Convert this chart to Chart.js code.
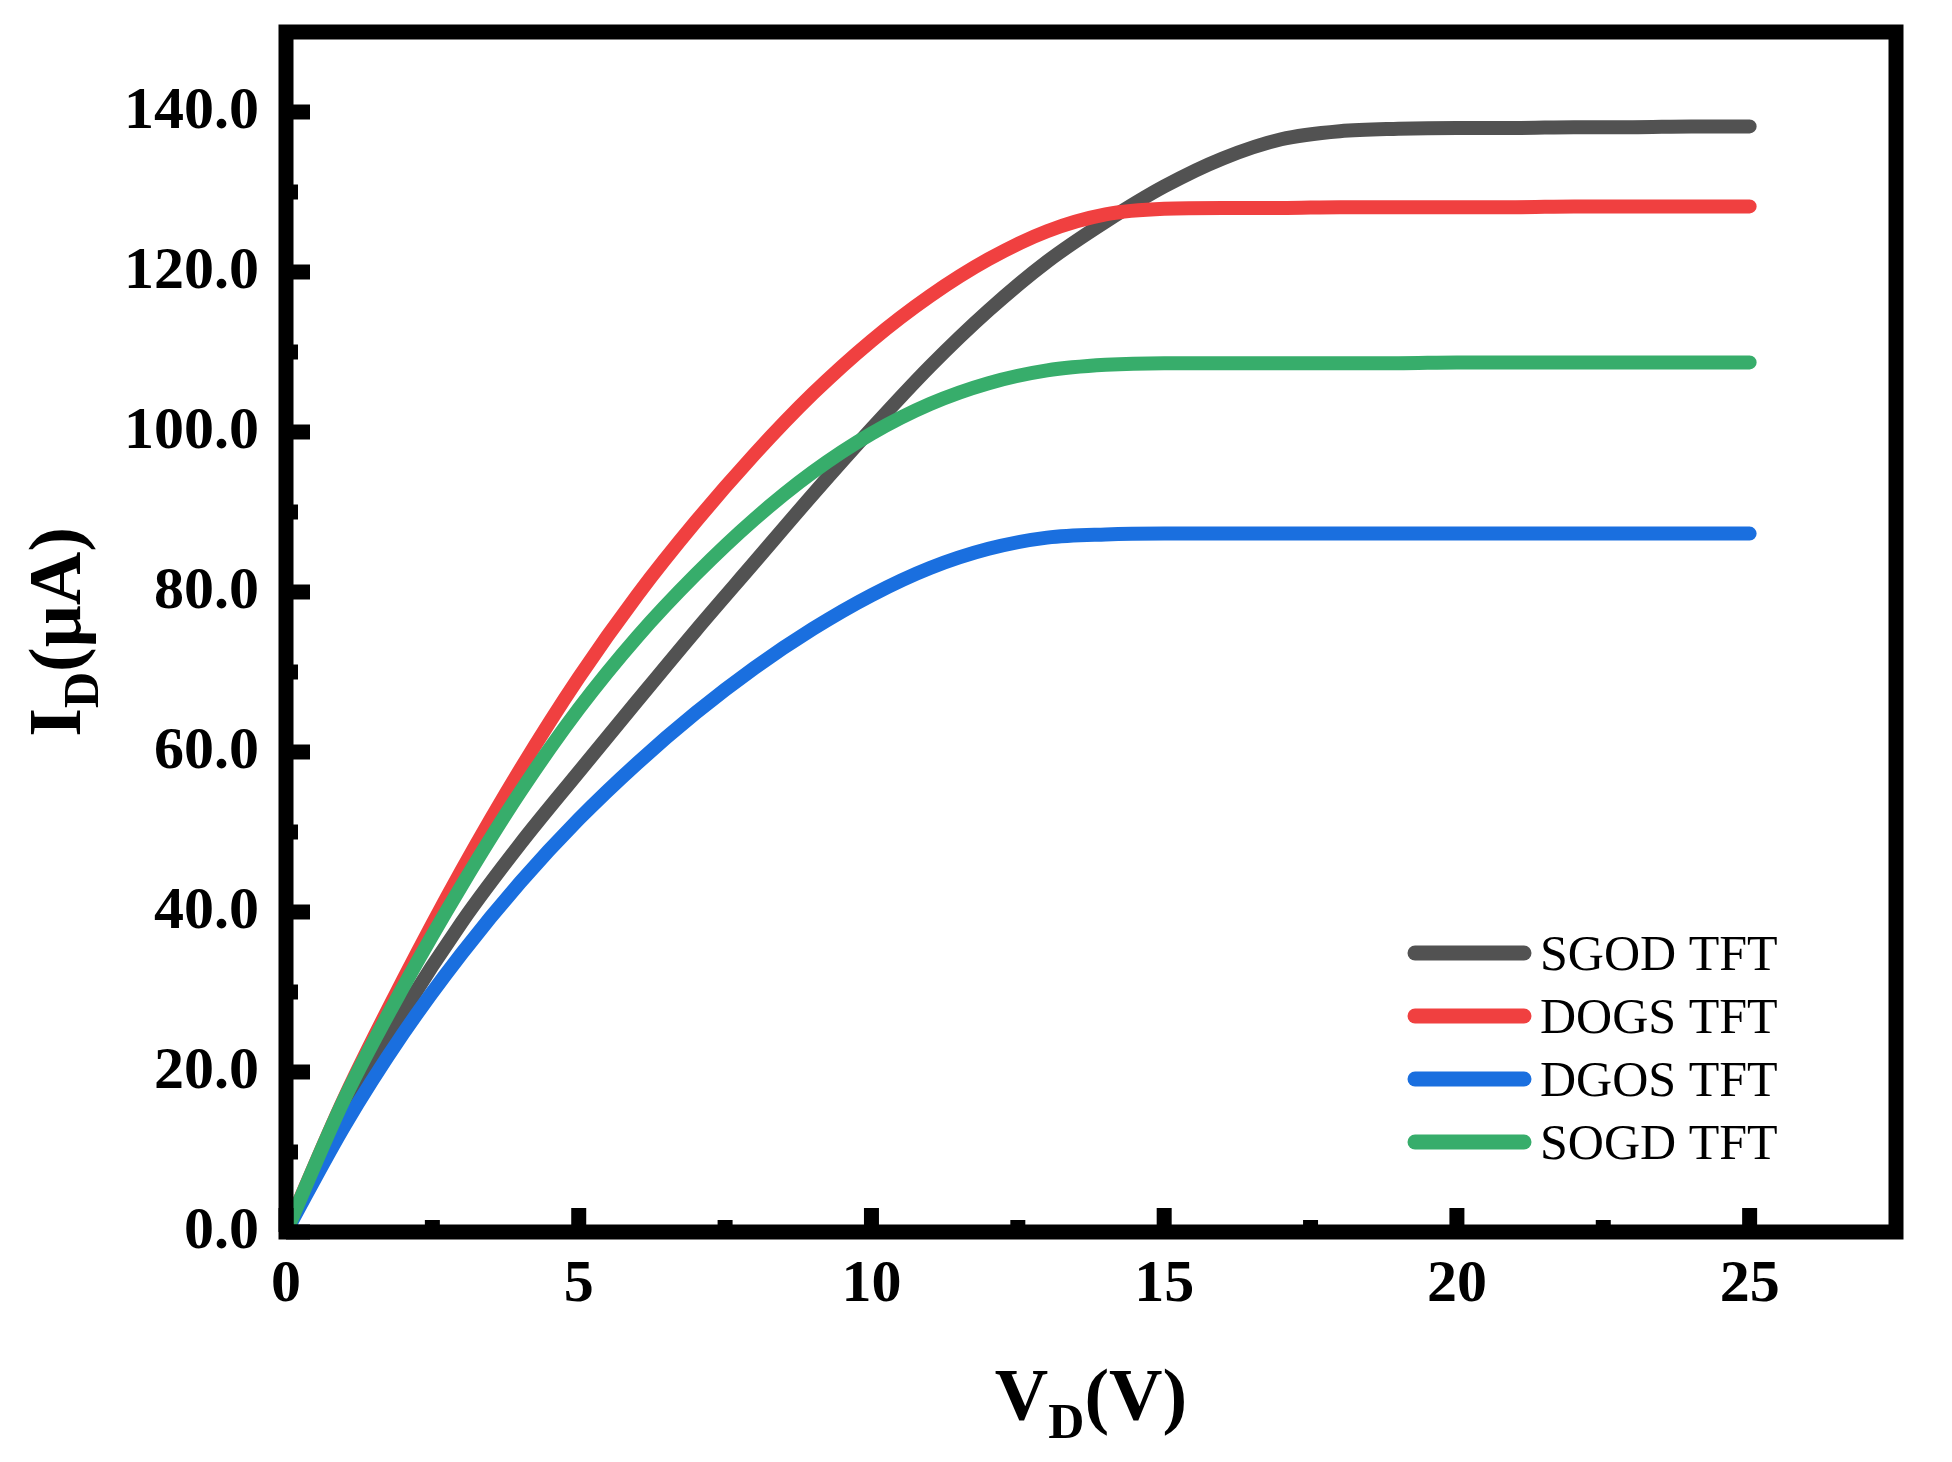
<!DOCTYPE html>
<html>
<head>
<meta charset="utf-8">
<title>ID-VD output curves</title>
<script src="https://cdn.jsdelivr.net/npm/chart.js@4.4.1/dist/chart.umd.min.js"></script>
<style>
  html, body { margin: 0; padding: 0; background: #ffffff; }
  #wrap { width: 1952px; height: 1462px; }
</style>
</head>
<body>
<div id="wrap"><canvas id="ivChart" width="1952" height="1462"></canvas></div>
<script>
// drain voltage (V)
var vd = [0, 1, 2, 3, 4, 5, 6, 7, 8, 9, 10, 11, 12, 13, 14, 15, 16, 17, 18, 19, 20, 21, 22, 23, 24, 25];

// drain current (uA)
var sgod = [0, 14.8, 27.5, 38.7, 48.5, 57.5, 66.4, 75.2, 83.7, 92.2, 100.4, 108.2, 115.2, 121.3, 126.3, 130.7, 134.2, 136.6, 137.6, 137.9, 138, 138, 138.1, 138.1, 138.2, 138.2];
var dogs = [0, 16.8, 31.5, 45.2, 57.8, 69.3, 79.6, 88.8, 97.2, 104.8, 111.4, 117, 121.6, 125.1, 127.2, 127.9, 128, 128, 128.1, 128.1, 128.1, 128.1, 128.2, 128.2, 128.2, 128.2];
var dgos = [0, 13.3, 24.8, 34.8, 43.7, 51.6, 58.6, 64.9, 70.5, 75.4, 79.6, 83, 85.4, 86.8, 87.2, 87.3, 87.3, 87.3, 87.3, 87.3, 87.3, 87.3, 87.3, 87.3, 87.3, 87.3];
var sogd = [0, 16.7, 30.6, 43.3, 55, 65.4, 74.4, 82.2, 89.1, 95, 99.8, 103.5, 106.1, 107.7, 108.4, 108.6, 108.6, 108.6, 108.6, 108.6, 108.7, 108.7, 108.7, 108.7, 108.7, 108.7];

var seriesNames = ['SGOD TFT', 'DOGS TFT', 'DGOS TFT', 'SOGD TFT'];
var seriesColors = ['#525252', '#f04040', '#1a6fdf', '#37ad6b'];

var xTicks = [0, 5, 10, 15, 20, 25];
var xMinor = [2.5, 7.5, 12.5, 17.5, 22.5];
var yTicks = [0, 20, 40, 60, 80, 100, 120, 140];
var yMinor = [10, 30, 50, 70, 90, 110, 130];

var serif = '"Liberation Serif", "Times New Roman", serif';

var toPoints = function(ys) {
	return vd.map(function(v, i) { return { x: v, y: ys[i] }; });
};

// black box + inward ticks, drawn over the curves like in Origin
var framePlugin = {
	id: 'frame',
	afterDatasetsDraw: function(chart) {
		var ctx = chart.ctx, a = chart.chartArea;
		var xs = chart.scales.x, ys = chart.scales.y;
		ctx.save();
		ctx.strokeStyle = '#000';
		ctx.lineWidth = 15;
		ctx.lineCap = 'butt';
		var seg = function(x1, y1, x2, y2) {
			ctx.beginPath(); ctx.moveTo(x1, y1); ctx.lineTo(x2, y2); ctx.stroke();
		};
		xTicks.forEach(function(v) { var p = xs.getPixelForValue(v); seg(p, a.bottom, p, a.bottom - 24); });
		xMinor.forEach(function(v) { var p = xs.getPixelForValue(v); seg(p, a.bottom, p, a.bottom - 12); });
		yTicks.forEach(function(v) { var p = ys.getPixelForValue(v); seg(a.left, p, a.left + 24, p); });
		yMinor.forEach(function(v) { var p = ys.getPixelForValue(v); seg(a.left, p, a.left + 12, p); });
		ctx.strokeRect(a.left, a.top, a.right - a.left, a.bottom - a.top);
		ctx.restore();
	}
};

// axis titles with subscripts and the legend inside the plot
var labelPlugin = {
	id: 'labels',
	afterDraw: function(chart) {
		var ctx = chart.ctx, a = chart.chartArea;
		ctx.save();
		ctx.fillStyle = '#000';
		ctx.textBaseline = 'alphabetic';
		ctx.textAlign = 'left';

		var big = 'bold 74px ' + serif, small = 'bold 50px ' + serif;
		var drawSub = function(main, sub, rest, cx, base) {
			ctx.font = big; var w1 = ctx.measureText(main).width, w3 = ctx.measureText(rest).width;
			ctx.font = small; var w2 = ctx.measureText(sub).width;
			var x0 = cx - (w1 + w2 + w3) / 2;
			ctx.font = big; ctx.fillText(main, x0, base);
			ctx.font = small; ctx.fillText(sub, x0 + w1, base + 18);
			ctx.font = big; ctx.fillText(rest, x0 + w1 + w2, base);
		};

		drawSub('V', 'D', '(V)', (a.left + a.right) / 2, 1420);

		ctx.save();
		ctx.translate(80, (a.top + a.bottom) / 2);
		ctx.rotate(-Math.PI / 2);
		drawSub('I', 'D', '(\u03bcA)', 0, 0);
		ctx.restore();

		// legend
		ctx.font = '50px ' + serif;
		ctx.lineCap = 'round';
		ctx.lineWidth = 15;
		seriesNames.forEach(function(name, i) {
			var y = a.bottom - 279 + i * 63;
			ctx.strokeStyle = seriesColors[i];
			ctx.beginPath(); ctx.moveTo(a.right - 481, y); ctx.lineTo(a.right - 372, y); ctx.stroke();
			ctx.fillText(name, a.right - 356, y + 17);
		});
		ctx.restore();
	}
};

var allSeries = [sgod, dogs, dgos, sogd];
var drawOrder = [4, 3, 2, 1];

var noPad = function(scale) {
	scale.paddingTop = 0; scale.paddingBottom = 0;
	scale.paddingLeft = 0; scale.paddingRight = 0;
};

var ivChart = new Chart(document.getElementById('ivChart'), {
	type: 'line',
	data: {
		datasets: allSeries.map(function(s, i) {
			return {
				label: seriesNames[i],
				data: toPoints(s),
				borderColor: seriesColors[i],
				backgroundColor: seriesColors[i],
				borderWidth: 14,
				borderCapStyle: 'round',
				borderJoinStyle: 'round',
				pointRadius: 0,
				cubicInterpolationMode: 'monotone',
				fill: false,
				order: drawOrder[i]
			};
		})
	},
	options: {
		responsive: false,
		devicePixelRatio: 1,
		animation: false,
		layout: {
			padding: { top: 32, right: 56, left: 0, bottom: 0 }
		},
		plugins: {
			legend: { display: false },
			tooltip: { enabled: false }
		},
		scales: {
			x: {
				type: 'linear',
				min: 0,
				max: 27.5,
				grid: { display: false, drawTicks: false },
				border: { display: false },
				afterBuildTicks: function(scale) {
					scale.ticks = xTicks.map(function(v) { return { value: v }; });
				},
				afterFit: function(scale) { scale.height = 230; noPad(scale); },
				ticks: {
					color: '#000',
					padding: 17,
					maxRotation: 0,
					font: { family: serif, size: 60, weight: 'bold' },
					callback: function(v) { return v; }
				}
			},
			y: {
				min: 0,
				max: 150,
				grid: { display: false, drawTicks: false },
				border: { display: false },
				afterBuildTicks: function(scale) {
					scale.ticks = yTicks.map(function(v) { return { value: v }; });
				},
				afterFit: function(scale) { scale.width = 286; noPad(scale); },
				ticks: {
					color: '#000',
					padding: 27,
					font: { family: serif, size: 60, weight: 'bold' },
					callback: function(v) { return v.toFixed(1); }
				}
			}
		}
	},
	plugins: [framePlugin, labelPlugin]
});
</script>
</body>
</html>
